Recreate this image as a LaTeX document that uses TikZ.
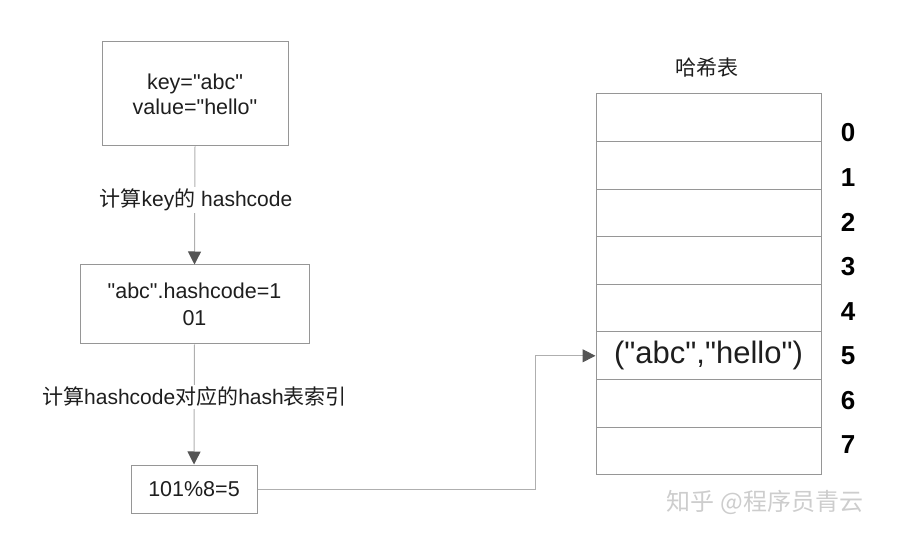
\documentclass[tikz,border=0pt]{standalone}
\usepackage{fontspec}
\setmainfont{Liberation Sans}[Ligatures=TeXOff]
\newfontfamily\cjk{Noto Sans CJK SC}
\usetikzlibrary{arrows.meta}
\definecolor{boxgray}{RGB}{150,150,150}
\definecolor{linegray}{RGB}{175,175,175}
\definecolor{tipgray}{RGB}{85,85,85}
\definecolor{txt}{RGB}{30,30,30}
\definecolor{wm}{RGB}{205,205,205}
\tikzset{
  flowbox/.style={draw=boxgray, line width=1pt, align=center, text=txt, font=\fontsize{21.5}{25}\selectfont, inner sep=0pt},
  arr/.style={draw=linegray, line width=1pt, -{Triangle[length=13pt,width=13pt,color=tipgray]}},
  steplabel/.style={fill=white, text=txt, font=\fontsize{21}{25}\selectfont, inner sep=2pt},
  slot/.style={draw=boxgray, line width=1pt, minimum width=225pt, minimum height=47.6pt, inner sep=0pt, text=txt, font=\fontsize{31}{36}\selectfont},
  idx/.style={text=black, font=\fontsize{26}{30}\selectfont\bfseries},
}
\begin{document}
\begin{tikzpicture}[x=1pt,y=-1pt]
\useasboundingbox (0,0) rectangle (907,534);
% flow boxes
\node[flowbox, minimum width=186pt, minimum height=104pt] (top) at (195,94) {key="abc"\\value="hello"};
\node[flowbox, minimum width=229pt, minimum height=79pt, font=\fontsize{21.5}{27}\selectfont] (mid) at (194.5,304.5) {"abc".hashcode=1\\01};
\node[flowbox, minimum width=126pt, minimum height=48pt] (bot) at (194,489) {101\%8=5};
% table
\foreach \i in {0,...,7} {
  \node[slot] (r\i) at (708.5,{94+(\i+0.5)*47.6}) {};
}
\node[slot, draw=none, fill=none] at (r5.center) {("abc","hello")};
\node[text=txt, font=\fontsize{21}{25}\selectfont\cjk] (title) at (707,68) {哈希表};
\foreach \i/\y in {0/133,1/178,2/222,3/267,4/312,5/356,6/401,7/445} {
  \node[idx] (n\i) at (848,\y) {\i};
}
% connectors
\draw[arr] (top.south) -- (mid.north);
\draw[arr] (mid.south) -- (bot.north);
\coordinate (bend) at (535,489);
\draw[arr] (bot.east) -- (bend) |- (r5.west);
% labels
\node[steplabel] (l1) at (196,200) {{\cjk 计算}key{\cjk 的} hashcode};
\node[steplabel] (l2) at (194.5,397) {{\cjk 计算}hashcode{\cjk 对应的}hash{\cjk 表索引}};
% watermark
\node[text=wm, font=\fontsize{24}{28}\selectfont\cjk] (wmk) at (765,502) {知乎 @程序员青云};
\end{tikzpicture}
\end{document}
